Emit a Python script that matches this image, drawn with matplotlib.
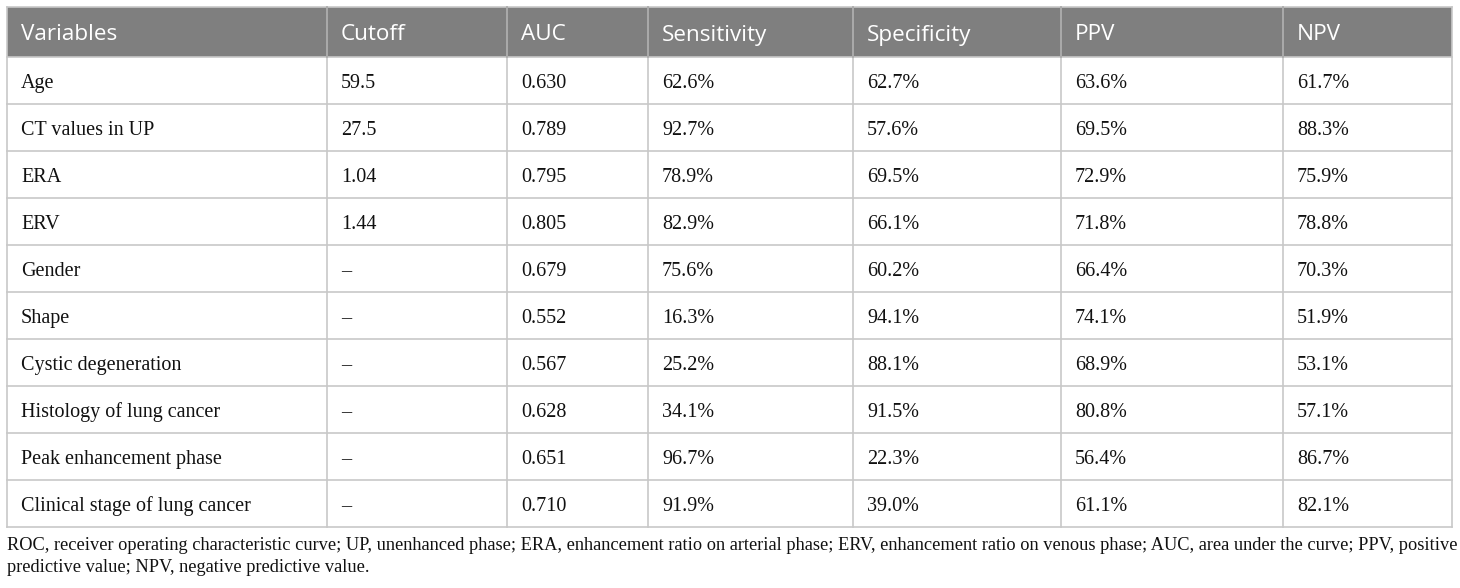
import matplotlib.pyplot as plt
from matplotlib.patches import Rectangle

# table contents
headers = ["Variables", "Cutoff", "AUC", "Sensitivity", "Specificity", "PPV", "NPV"]
variables = ["Age", "CT values in UP", "ERA", "ERV", "Gender", "Shape",
             "Cystic degeneration", "Histology of lung cancer",
             "Peak enhancement phase", "Clinical stage of lung cancer"]
cutoff = ["59.5", "27.5", "1.04", "1.44", "–", "–", "–", "–", "–", "–"]
auc = ["0.630", "0.789", "0.795", "0.805", "0.679", "0.552", "0.567", "0.628", "0.651", "0.710"]
sensitivity = ["62.6%", "92.7%", "78.9%", "82.9%", "75.6%", "16.3%", "25.2%", "34.1%", "96.7%", "91.9%"]
specificity = ["62.7%", "57.6%", "69.5%", "66.1%", "60.2%", "94.1%", "88.1%", "91.5%", "22.3%", "39.0%"]
ppv = ["63.6%", "69.5%", "72.9%", "71.8%", "66.4%", "74.1%", "68.9%", "80.8%", "56.4%", "61.1%"]
npv = ["61.7%", "88.3%", "75.9%", "78.8%", "70.3%", "51.9%", "53.1%", "57.1%", "86.7%", "82.1%"]
footnote = ["ROC, receiver operating characteristic curve; UP, unenhanced phase; ERA, enhancement ratio on arterial phase; "
            "ERV, enhancement ratio on venous phase; AUC, area under the curve; PPV, positive",
            "predictive value; NPV, negative predictive value."]

columns = [variables, cutoff, auc, sensitivity, specificity, ppv, npv]

# layout in pixels
col_x = [7, 327, 507, 648, 853, 1061, 1283, 1452]
top, head_h, row_h = 7, 50, 47
line_col = "#c8c8c8"

fig = plt.figure(figsize=(14.6, 5.88), dpi=100)
ax = fig.add_axes([0, 0, 1, 1])
ax.set_xlim(0, 1460)
ax.set_ylim(588, 0)
ax.axis("off")

# header
ax.add_patch(Rectangle((col_x[0], top), col_x[-1] - col_x[0], head_h,
                       facecolor="#7f7f7f", edgecolor="none"))
for i, h in enumerate(headers):
    ax.text(col_x[i] + 14, top + head_h / 2 + 3, h, color="white", fontsize=16.2,
            family="Open Sans", va="center", ha="left")

# body
n = len(variables)
bottom = top + head_h + n * row_h
for r in range(n):
    yc = top + head_h + r * row_h + row_h / 2
    for c, col in enumerate(columns):
        ax.text(col_x[c] + 14, yc + 3, col[r], fontsize=14.5,
                family="Liberation Serif", va="center", ha="left", color="#111111")

# grid lines
for r in range(n + 1):
    y = top + head_h + r * row_h
    ax.plot([col_x[0], col_x[-1]], [y, y], color=line_col, lw=1.2)
ax.plot([col_x[0], col_x[-1]], [top, top], color=line_col, lw=1.2)
for x in col_x:
    ax.plot([x, x], [top, bottom], color=line_col, lw=1.2)
for x in col_x[1:-1]:
    ax.plot([x, x], [top, top + head_h], color="#a6a6a6", lw=1.2)

# footnote
for k, line in enumerate(footnote):
    ax.text(7, bottom + 18 + k * 22, line, fontsize=13.25, family="Liberation Serif",
            va="center", ha="left", color="#111111")

fig.savefig("out.png", dpi=100)
